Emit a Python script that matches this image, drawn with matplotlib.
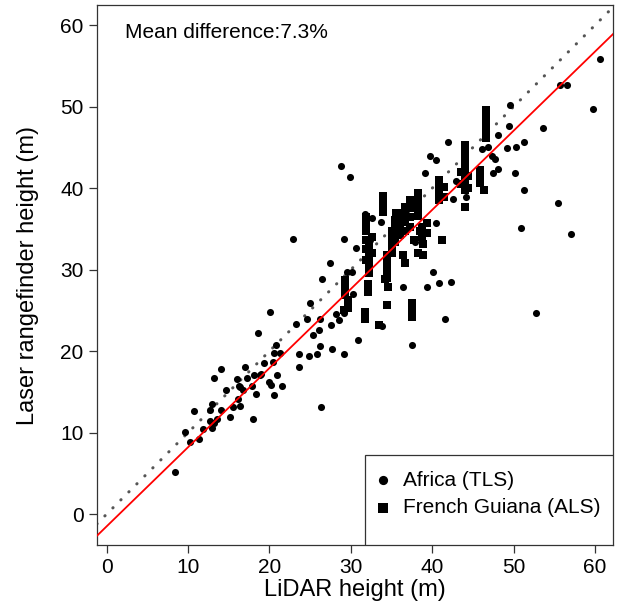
import numpy as np
import matplotlib.pyplot as plt
from matplotlib.patches import Rectangle

plt.rcParams['font.family'] = ['Liberation Sans', 'DejaVu Sans']

# --- data ---
africa_x = [8.4, 9.6, 10.2, 11.4, 10.7, 11.8, 12.9, 12.7, 13.2, 13.5, 12.7, 12.9,
            14.1, 15.1, 15.5, 16.4, 16.1, 14.7, 13.2, 14.0, 16.0, 16.2, 16.8, 17.0,
            17.3, 17.8, 18.3, 18.1, 18.8, 18.0, 19.3, 20.0, 20.2, 20.5, 20.9, 21.6,
            20.4, 20.5, 21.3, 20.8, 18.6, 23.6, 23.6, 19.0, 16.4, 20.1, 26.3,
            22.9, 29.2, 30.6, 27.4, 26.5, 29.5, 30.1, 25.0, 24.6, 26.2, 23.2, 26.1,
            27.5, 28.2, 29.1, 25.4, 26.2, 24.9, 25.9, 27.7, 29.2, 30.9, 33.8, 28.5,
            30.3, 28.8, 29.9, 31.7, 32.6, 33.7, 32.3,
            41.9, 39.7, 40.5, 39.1, 42.9, 48.1, 49.2, 47.3, 47.4, 48.1, 46.1, 46.9,
            42.6, 44.2, 40.5, 40.1, 40.8, 42.3, 39.3, 36.4, 41.6, 37.9, 37.5,
            60.6, 55.7, 56.5, 49.6, 59.7, 49.4, 53.6, 50.3, 51.3, 47.7, 50.2, 51.3,
            55.5, 50.9, 57.0, 52.8]
africa_y = [5.2, 10.1, 8.8, 9.2, 12.7, 10.4, 10.6, 11.4, 11.2, 11.7, 12.8, 13.5,
            12.8, 11.9, 13.1, 13.3, 14.1, 15.2, 16.7, 17.8, 16.6, 15.7, 15.2, 18.0,
            16.7, 15.7, 14.8, 17.1, 17.1, 11.7, 18.5, 16.2, 15.8, 14.6, 17.1, 15.7,
            18.7, 19.8, 19.8, 20.7, 22.2, 19.6, 18.0, 17.2, 15.6, 24.8, 13.2,
            33.8, 33.8, 32.7, 30.8, 28.8, 29.7, 29.7, 25.9, 24.0, 23.9, 23.3, 22.6,
            23.2, 24.6, 24.7, 22.0, 20.6, 19.4, 19.7, 20.2, 19.7, 21.4, 23.1, 23.8,
            27.0, 42.7, 41.4, 36.8, 36.3, 35.9, 33.6,
            45.7, 44.0, 43.4, 41.8, 40.9, 46.5, 44.9, 44.0, 41.8, 42.4, 44.8, 45.1,
            38.7, 38.9, 35.7, 29.7, 28.3, 28.5, 27.9, 27.9, 24.0, 33.4, 20.7,
            55.8, 52.6, 52.6, 50.2, 49.7, 47.6, 47.4, 45.1, 45.7, 43.6, 41.9, 39.8,
            38.2, 35.1, 34.4, 24.7]

guiana_x = [29.3, 29.3, 29.3, 29.7, 29.7, 29.1,
            31.7, 31.7,
            31.8, 31.8, 31.8, 31.8, 31.8,
            32.2, 32.2, 32.2, 32.2, 31.9, 32.1, 32.1, 32.6, 32.6,
            34.0, 34.0, 34.0,
            34.4, 34.4, 34.4, 34.4, 34.6, 34.4, 34.2,
            35.0, 35.0, 35.0, 35.0,
            35.4, 35.4, 35.4, 35.4, 35.6, 35.6,
            36.0, 36.0, 36.0, 36.0,
            36.7, 36.7, 36.7, 36.7,
            37.3, 37.3, 37.3, 37.3,
            38.3, 38.3, 38.3, 38.3,
            38.7, 38.7, 39.3, 39.3, 41.2, 38.9, 38.3, 38.9, 36.7, 36.4, 37.7, 38.5,
            40.8, 40.8, 40.8, 40.8, 41.4, 41.4,
            44.0, 44.0, 44.0, 44.0, 44.0, 44.0, 44.0, 43.5, 43.5, 44.4, 44.4, 44.0,
            45.9, 45.9, 45.9, 46.3,
            46.6, 46.6, 46.6, 46.6, 46.6, 46.6,
            37.5, 37.5, 37.5, 33.4]
guiana_y = [28.7, 27.8, 26.9, 26.3, 25.3, 25.0,
            24.8, 24.0,
            36.5, 35.6, 34.7, 33.6, 32.5,
            32.8, 31.6, 30.6, 29.6, 31.2, 28.2, 27.2, 34.0, 32.0,
            39.0, 38.0, 37.1,
            31.8, 30.8, 29.9, 29.0, 27.9, 25.7, 28.9,
            34.8, 33.9, 33.0, 32.0,
            36.1, 35.2, 34.3, 33.4, 36.9, 35.9,
            37.0, 36.1, 35.2, 34.2,
            37.7, 36.8, 35.9, 34.8,
            38.5, 37.6, 36.5, 35.2,
            39.4, 38.5, 37.5, 36.6,
            35.2, 34.0, 35.7, 34.5, 33.6, 33.2, 32.0, 31.8, 30.8, 31.8, 33.6, 34.8,
            41.0, 40.1, 39.2, 38.5, 40.1, 38.9,
            45.3, 44.4, 43.4, 42.5, 41.6, 40.7, 39.8, 42.0, 40.5, 41.5, 40.0, 37.7,
            42.2, 41.4, 40.6, 39.8,
            49.6, 48.9, 48.3, 47.4, 46.7, 46.1,
            25.9, 25.0, 24.2, 23.2]

fit_slope = 0.971
fit_intercept = -1.5
mean_diff_label = "Mean difference:7.3%"
x_ticks = [0, 10, 20, 30, 40, 50, 60]
y_ticks = [0, 10, 20, 30, 40, 50, 60]

# --- figure ---
fig = plt.figure(figsize=(6.17, 6.05), dpi=100)
ax = fig.add_axes([0.157, 0.099, 0.8365, 0.8925])

xlim = (-1.2, 62.2)
ylim = (-3.8, 62.45)

# 1:1 line (dotted grey) and fitted line (red)
ax.plot(xlim, xlim, color='#555555', linestyle=(0, (0.1, 3.6)), linewidth=2.2,
        dash_capstyle='round', zorder=1)
fx = np.array(xlim)
ax.plot(fx, fit_slope * fx + fit_intercept, color='red', linewidth=1.3, zorder=3)

ax.scatter(africa_x, africa_y, s=26, marker='o', color='black', linewidths=0,
           label='Africa (TLS)', zorder=2)
ax.scatter(guiana_x, guiana_y, s=30, marker='s', color='black', linewidths=0,
           label='French Guiana (ALS)', zorder=2)

ax.set_xlim(*xlim)
ax.set_ylim(*ylim)
ax.set_xticks(x_ticks)
ax.set_yticks(y_ticks)
ax.tick_params(direction='out', length=6, width=0.9, labelsize=15, color='#333333',
               pad=3.5)
for sp in ax.spines.values():
    sp.set_color('#333333')
    sp.set_linewidth(0.9)

ax.set_xlabel("LiDAR height (m)", fontsize=17, labelpad=1)
ax.set_ylabel("Laser rangefinder height (m)", fontsize=17, labelpad=15)

ax.text(2.2, 59.1, mean_diff_label, fontsize=15, ha='left', va='center')

# legend box drawn R-style in the lower right corner
box = Rectangle((0.519, 0.0), 0.481, 0.1667, transform=ax.transAxes,
                facecolor='white', edgecolor='#333333', linewidth=0.9, zorder=4)
ax.add_patch(box)
leg = ax.legend(loc='upper left', bbox_to_anchor=(0.519, 0.1667), frameon=False,
                borderaxespad=0, fontsize=15, handletextpad=0.83, borderpad=0.75,
                labelspacing=0.4, handlelength=0.25, markerscale=1.3)
leg.set_zorder(5)

fig.savefig("out.png", dpi=100)
